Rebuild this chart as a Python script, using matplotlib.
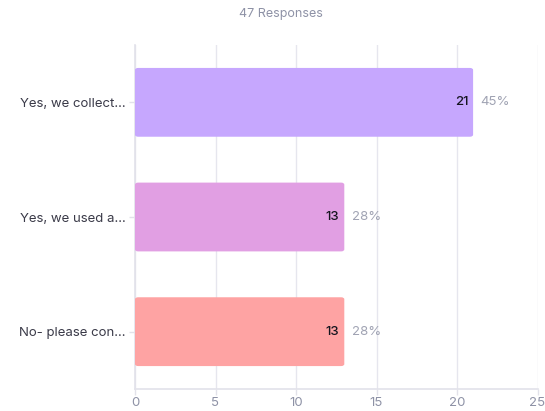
import matplotlib
matplotlib.use("Agg")
import matplotlib.pyplot as plt
from matplotlib.patches import FancyBboxPatch

plt.rcParams['font.family'] = ['Inter', 'DejaVu Sans']

categories = ["Yes, we collect\u2026", "Yes, we used a\u2026", "No- please con\u2026"]
counts = [21, 13, 13]
percents = ["45%", "28%", "28%"]
colors = ["#c6a7fe", "#e19fe3", "#fea3a3"]
total_responses = 47
x_ticks = [0, 5, 10, 15, 20, 25]

fig = plt.figure(figsize=(5.45, 4.11), dpi=100)
ax = fig.add_axes([135 / 545, 1 - 389 / 411, 402.5 / 545, 344 / 411])

bar_h = 0.6
ypos = list(range(len(categories)))
for y, v, c, pct in zip(ypos, counts, colors, percents):
    patch = FancyBboxPatch((0, y - bar_h / 2), v, bar_h,
                           boxstyle="round,pad=0,rounding_size=0.2",
                           mutation_aspect=0.035 * 2.5,
                           facecolor=c, edgecolor="none", zorder=3)
    ax.add_patch(patch)
    ax.text(v - 0.3, y, str(v), ha="right", va="center",
            fontsize=9.5, color="#15151f", fontweight="medium", zorder=4)
    ax.text(v + 0.45, y, pct, ha="left", va="center",
            fontsize=9.5, color="#a0a3b3", zorder=4)

ax.set_xlim(0, 25)
ax.set_ylim(2.5, -0.5)
ax.set_xticks(x_ticks)
ax.set_xticklabels([str(t) for t in x_ticks])
ax.set_yticks(ypos)
ax.set_yticklabels(categories)

ax.grid(axis="x", color="#e6e6ee", linewidth=1.0, zorder=0)
ax.set_axisbelow(True)
for s in ["top", "right"]:
    ax.spines[s].set_visible(False)
for s in ["left", "bottom"]:
    ax.spines[s].set_color("#e2e2ea")
    ax.spines[s].set_linewidth(1.2)

ax.tick_params(axis="x", colors="#e2e2ea", labelcolor="#8e92a6",
               labelsize=9.5, length=4, width=1, pad=2)
ax.tick_params(axis="y", colors="#e2e2ea", labelcolor="#3a3a48",
               labelsize=9.5, length=4, width=1, pad=3)

fig.text(280.5 / 545, 1 - 14 / 411, f"{total_responses} Responses", ha="center",
         va="center", fontsize=9, color="#8e92a6")

fig.savefig("out.png", dpi=100)
